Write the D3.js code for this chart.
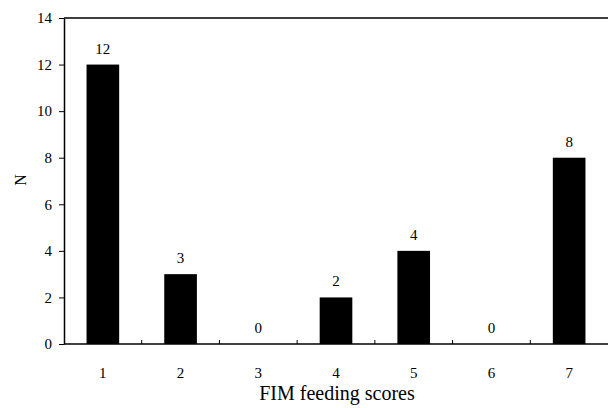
<!DOCTYPE html>
<html><head><meta charset="utf-8">
<script src="https://cdn.jsdelivr.net/npm/d3@7"></script>
<style>body{margin:0;background:#fff}svg{display:block}</style>
</head><body>
<svg id="c" width="608" height="408" style="font-family:'Liberation Serif','DejaVu Serif',serif"></svg>
<script>
const categories = ["1","2","3","4","5","6","7"];
const counts = [12,3,0,2,4,0,8];
const yTicks = [0,2,4,6,8,10,12,14];
const xTitle = "FIM feeding scores";
const yTitle = "N";
const FONT = "Liberation Serif, DejaVu Serif, serif";

const svg = d3.select("#c");
const m = {l:64, t:18, r:0, b:64};
const W = 608, H = 408;
const x = d3.scaleBand().domain(categories).range([m.l, W - m.r]).paddingInner(0.58).paddingOuter(0.29);
const y = d3.scaleLinear().domain([0,14]).range([H - m.b, m.t]);

// bars
svg.selectAll("rect.bar").data(counts).enter().append("rect")
  .attr("x",(d,i)=>x(categories[i])).attr("width",x.bandwidth())
  .attr("y",d=>y(d)).attr("height",d=>y(0)-y(d)).attr("fill","#000");

// value labels
svg.selectAll("text.val").data(counts).enter().append("text")
  .attr("x",(d,i)=>x(categories[i])+x.bandwidth()/2).attr("y",d=>y(d)-11)
  .attr("text-anchor","middle").attr("font-size",15).attr("font-family",FONT).attr("fill","#000").text(d=>d);

// y axis
const ya = svg.append("g").attr("transform",`translate(${m.l},0)`)
  .call(d3.axisLeft(y).tickValues(yTicks).tickSize(5).tickPadding(7).tickSizeOuter(0));
ya.attr("font-family",FONT).attr("font-size",15);
ya.select(".domain").attr("stroke","#000").attr("stroke-width",1.5);
ya.selectAll("text").attr("fill","#000");

// x axis baseline
svg.append("line").attr("x1",m.l).attr("x2",W).attr("y1",y(0)).attr("y2",y(0)).attr("stroke","#000").attr("stroke-width",1.5);
// top frame
svg.append("line").attr("x1",m.l).attr("x2",W).attr("y1",y(14)).attr("y2",y(14)).attr("stroke","#000").attr("stroke-width",1.5);

// x boundary ticks (inward)
const step = x.step();
const bounds = categories.slice(1).map(c => x(c) - x.paddingInner()*step/2);
svg.selectAll("line.xt").data(bounds).enter().append("line")
  .attr("x1",d=>d).attr("x2",d=>d).attr("y1",y(0)).attr("y2",y(0)-4).attr("stroke","#000");

// x labels
svg.selectAll("text.xl").data(categories).enter().append("text")
  .attr("x",d=>x(d)+x.bandwidth()/2).attr("y",y(0)+34).attr("text-anchor","middle")
  .attr("font-size",15).attr("font-family",FONT).attr("fill","#000").text(d=>d);

svg.append("text").attr("x",337).attr("y",400).attr("text-anchor","middle").attr("font-size",20)
  .attr("font-family",FONT).attr("fill","#000").text(xTitle);
svg.append("text").attr("transform","translate(26,180) rotate(-90)").attr("text-anchor","middle")
  .attr("font-size",16).attr("font-family",FONT).attr("fill","#000").text(yTitle);
</script>
</body></html>
